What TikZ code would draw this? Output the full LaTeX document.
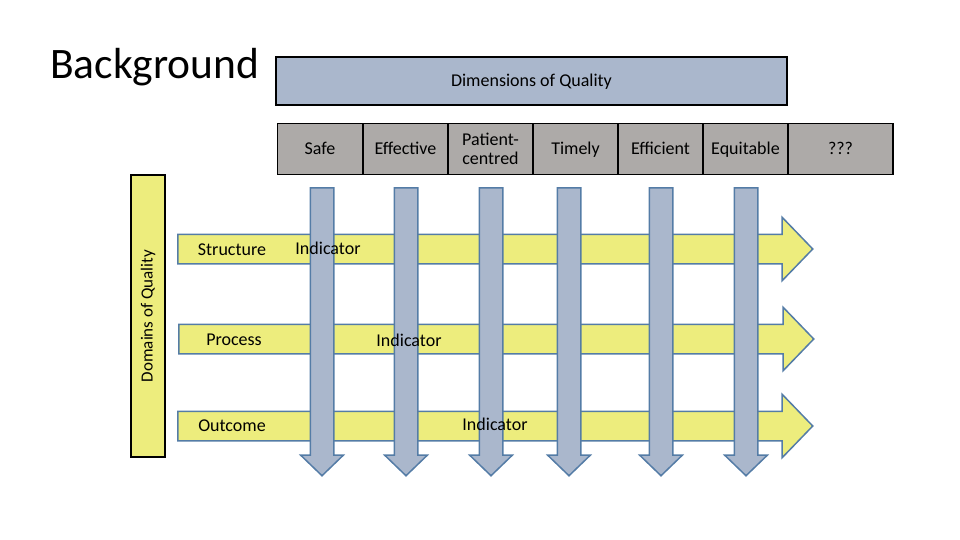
\documentclass[tikz,border=0pt]{standalone}
\usepackage{fontspec}
\setmainfont{Carlito}
\usepackage{tikz}
\usetikzlibrary{shapes.arrows,positioning}
\definecolor{qyellow}{RGB}{237,237,125}
\definecolor{qblue}{RGB}{170,183,204}
\definecolor{qgrey}{RGB}{173,170,168}
\definecolor{qedge}{RGB}{84,124,166}

\begin{document}
\begin{tikzpicture}[
  x=1pt, y=-1pt,
  dimbox/.style={draw=black, line width=1.8pt, fill=qblue, minimum width=511pt, minimum height=48pt, inner sep=0pt, text height=14pt, text depth=3pt, font=\fontsize{18}{19}\selectfont},
  cell/.style={draw=black, line width=1.8pt, fill=qgrey, minimum width=85pt, minimum height=51pt, inner sep=0pt, align=center, text height=14pt, text depth=3pt, font=\fontsize{18}{19}\selectfont},
  sidebox/.style={draw=black, line width=1.8pt, fill=qyellow, minimum width=282pt, minimum height=34pt, inner sep=0pt, font=\fontsize{17}{18}\selectfont},
  rowarr/.style={single arrow, draw=qedge, line width=1.5pt, fill=qyellow, anchor=tail, minimum height=635pt, minimum width=62pt, inner sep=14pt, single arrow head extend=17pt, single arrow tip angle=92},
  colarr/.style={single arrow, draw=qedge, line width=1.5pt, fill=qblue, rotate=-90, anchor=tail, minimum height=288pt, minimum width=41pt, inner sep=11pt, single arrow head extend=9.5pt, single arrow tip angle=92},
  lbl/.style={inner sep=0pt, text height=14pt, text depth=3pt, font=\fontsize{18}{19}\selectfont},
]
\useasboundingbox (0,0) rectangle (960,540);

% ─── Title ───
\node[inner sep=0pt, anchor=base west, font=\fontsize{43.5}{46}\selectfont] (title) at (50,79) {Background};

% ─── Dimensions of quality (top header) ───
\node[dimbox] (dims) at (531.5,81) {Dimensions of Quality};

\node[cell] (safe) at (320,149)   {Safe};
\node[cell] (eff)  at (405.5,149) {Effective};
\node[cell, text height=, text depth=] (pat) at (490.5,149) {Patient-\\centred};
\node[cell] (tim)  at (575.5,149) {Timely};
\node[cell] (effi) at (660.5,149) {Efficient};
\node[cell] (equ)  at (745.5,149) {Equitable};
\node[cell, minimum width=105pt] (unk) at (840.5,149) {???};

% ─── Domains of quality (side bar) ───
\node[sidebox, rotate=90] (doms) at (148,316) {Domains of Quality};

% ─── Domain rows (yellow arrows) ───
\node[rowarr] (rStr) at (177,249) {};
\node[rowarr] (rPro) at (178,339) {};
\node[rowarr] (rOut) at (177,426) {};

% ─── Dimension columns (blue arrows) ───
\node[colarr] (cSafe) at (322,187) {};
\node[colarr] (cEff)  at (406,187) {};
\node[colarr] (cPat)  at (491,187) {};
\node[colarr] (cTim)  at (569,187) {};
\node[colarr] (cEffi) at (661,187) {};
\node[colarr] (cEqu)  at (746,187) {};

% ─── Row labels ───
\node[lbl] (lStr) at (232,250) {Structure};
\node[lbl] (lPro) at (234,340) {Process};
\node[lbl] (lOut) at (232,426) {Outcome};

% ─── Indicators ───
\node[lbl] (iStr) at (328,249) {Indicator};
\node[lbl] (iPro) at (409,341) {Indicator};
\node[lbl] (iOut) at (495,425) {Indicator};

\end{tikzpicture}
\end{document}
